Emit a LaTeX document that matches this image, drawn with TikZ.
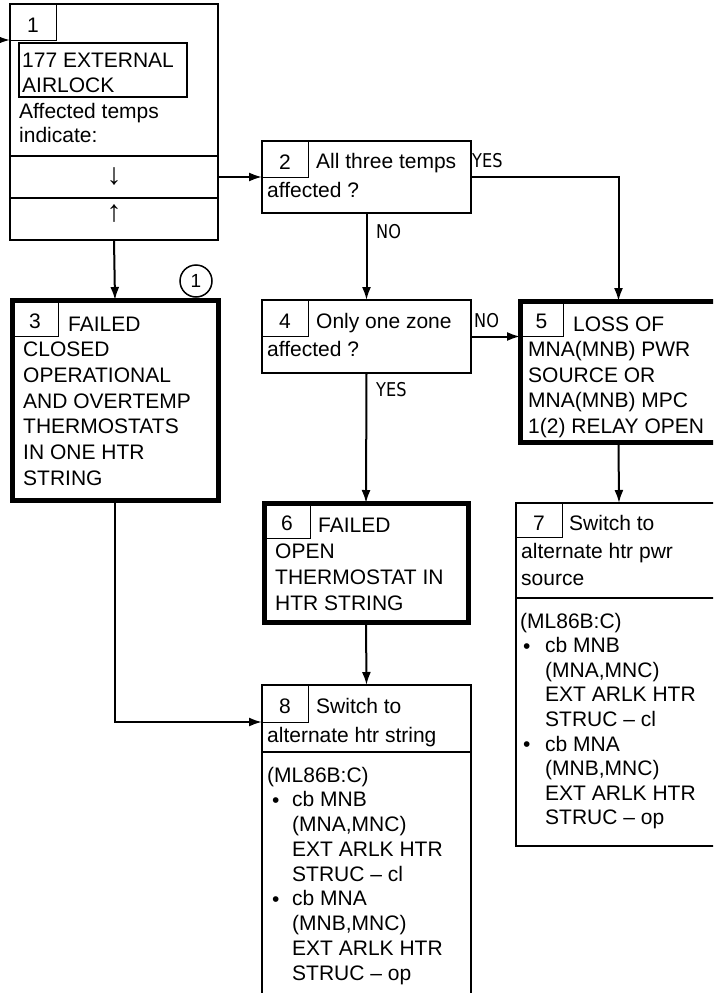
\documentclass[tikz,border=0pt]{standalone}
\usepackage{fontspec}
\setmainfont{Liberation Sans}
\newfontfamily\lblfont[FakeStretch=0.85]{DejaVu Sans}
\usetikzlibrary{arrows.meta}

\tikzset{
  box/.style={draw, line width=2pt, anchor=north west, inner sep=0pt, outer sep=0pt},
  thickbox/.style={box, line width=5pt},
  tab/.style={draw, line width=1pt, anchor=north west, inner sep=0pt, outer sep=0pt,
    minimum width=46pt, minimum height=36pt, text height=20pt, text depth=0pt,
    font=\fontsize{21}{25}\selectfont},
  txt/.style={anchor=base west, inner sep=0pt, font=\fontsize{21}{25}\selectfont},
  lbl/.style={anchor=base west, inner sep=0pt, font=\lblfont\fontsize{19}{22}\selectfont},
  arr/.style={-{Latex[length=13pt,width=9pt]}, line width=2pt},
  divider/.style={line width=2pt}
}

\begin{document}
\begin{tikzpicture}[x=1pt, y=-1pt]

  \useasboundingbox (0,0) rectangle (713,993);
  \clip (0,0) rectangle (713,993);

  % boxes
  \node[box, minimum width=208pt, minimum height=236pt] (b1) at (10,4) {};
  \node[box, minimum width=209pt, minimum height=72pt] (b2) at (262,141) {};
  \node[thickbox, minimum width=206pt, minimum height=200pt] (b3) at (12,300) {};
  \node[box, minimum width=209pt, minimum height=73pt] (b4) at (262,300) {};
  \node[thickbox, minimum width=197pt, minimum height=141pt] (b5) at (520,301) {};
  \node[thickbox, minimum width=204pt, minimum height=119pt] (b6) at (264,503) {};
  \node[box, minimum width=206pt, minimum height=343pt] (b7) at (516,503) {};
  \node[box, minimum width=209pt, minimum height=325pt] (b8) at (262,685) {};

  % number tabs
  \node[tab] (t1) at (10,4) {1};
  \node[tab] (t2) at (262,141) {2};
  \node[tab, minimum width=46pt] (t3) at (12,300) {3};
  \node[tab] (t4) at (262,300) {4};
  \node[tab, minimum width=43pt, minimum height=35pt] (t5) at (520,301) {5};
  \node[tab, minimum width=46pt, minimum height=35pt] (t6) at (264,503) {6};
  \node[tab, minimum height=34pt] (t7) at (516,503) {7};
  \node[tab, minimum height=37pt] (t8) at (262,685) {8};

  % box 1
  \node[draw, line width=1.5pt, anchor=north west, inner sep=0pt, outer sep=0pt,
    minimum width=168pt, minimum height=54pt] (ib1) at (19,43) {};
  \node[txt] (b1a) at (22,67) {177 EXTERNAL};
  \node[txt] (b1b) at (22,92) {AIRLOCK};
  \node[txt] (b1c) at (19,118) {Affected temps};
  \node[txt] (b1d) at (19,142) {indicate:};
  \draw[divider] (10,156) -- (218,156);
  \draw[divider] (10,198) -- (218,198);
  \node[font=\fontsize{30}{32}\selectfont, inner sep=0pt] (dn) at (114,177) {↓};
  \node[font=\fontsize{30}{32}\selectfont, inner sep=0pt] (up) at (114,214) {↑};

  % box 2 and box 4
  \node[txt] (b2a) at (316,168) {All three temps};
  \node[txt] (b2b) at (267,197) {affected ?};
  \node[txt] (b4a) at (316,328) {Only one zone};
  \node[txt] (b4b) at (267,356) {affected ?};

  % box 3
  \node[txt] (b3a) at (68,331) {FAILED};
  \foreach \t [count=\i] in {CLOSED, OPERATIONAL, AND OVERTEMP, THERMOSTATS, IN ONE HTR, STRING}
    \node[txt] (b3l\i) at (23,331+25.7*\i) {\t};

  % box 5
  \node[txt] (b5a) at (573,331) {LOSS OF};
  \foreach \t [count=\i] in {MNA(MNB) PWR, SOURCE OR, MNA(MNB) MPC, 1(2) RELAY OPEN}
    \node[txt] (b5l\i) at (528,331+25.5*\i) {\t};

  % box 6
  \node[txt] (b6a) at (318,532) {FAILED};
  \foreach \t [count=\i] in {OPEN, THERMOSTAT IN, HTR STRING}
    \node[txt] (b6l\i) at (275,532+26*\i) {\t};

  % box 7
  \node[txt] (b7a) at (569,530) {Switch to};
  \node[txt] (b7b) at (521,558) {alternate htr pwr};
  \node[txt] (b7c) at (521,585) {source};
  \draw[divider] (516,598) -- (722,598);
  \node[txt] (b7d) at (520,628) {(ML86B:C)};
  \node[txt] (b7p) at (523,653) {\textbullet};
  \node[txt] (b7q) at (523,751) {\textbullet};
  \foreach \t [count=\i] in {cb MNB, {(MNA,MNC)}, EXT ARLK HTR, STRUC – cl,
      cb MNA, {(MNB,MNC)}, EXT ARLK HTR, STRUC – op}
    \node[txt] (b7l\i) at (545,628+24.6*\i) {\t};

  % box 8
  \node[txt] (b8a) at (316,713) {Switch to};
  \node[txt] (b8b) at (267,742) {alternate htr string};
  \draw[divider] (262,752) -- (471,752);
  \node[txt] (b8d) at (267,782) {(ML86B:C)};
  \node[txt] (b8p) at (272,807) {\textbullet};
  \node[txt] (b8q) at (272,906) {\textbullet};
  \foreach \t [count=\i] in {cb MNB, {(MNA,MNC)}, EXT ARLK HTR, STRUC – cl,
      cb MNA, {(MNB,MNC)}, EXT ARLK HTR, STRUC – op}
    \node[txt] (b8l\i) at (292,782+24.75*\i) {\t};

  % circled note
  \node[draw, circle, line width=1.5pt, minimum size=32pt, inner sep=0pt,
    font=\fontsize{19}{22}\selectfont] (c1) at (196,281) {1};

  % answer labels
  \node[lbl] (yes2) at (472,167) {YES};
  \node[lbl] (no2) at (376,238) {NO};
  \node[lbl] (no4) at (474,327) {NO};
  \node[lbl] (yes4) at (376,396) {YES};

  % connectors
  \coordinate (in1) at (-5,40);
  \draw[arr] (in1) -- (t1.south west);
  \draw[arr] (b2.west -| b1.east) -- (b2.west);
  \draw[arr] (b1.south) -- (b3.north);
  \draw[arr] (b2.east) -| (b5.north);
  \draw[arr] (b2.south) -- (b4.north);
  \draw[arr] (b4.east) -- (b4.east -| b5.west);
  \draw[arr] (b4.south) -- (b6.north);
  \draw[arr] (b5.south) -- (b7.north);
  \draw[arr] (b6.south) -- (b8.north);
  \draw[arr] (b3.south) |- (t8.south west);

\end{tikzpicture}
\end{document}
